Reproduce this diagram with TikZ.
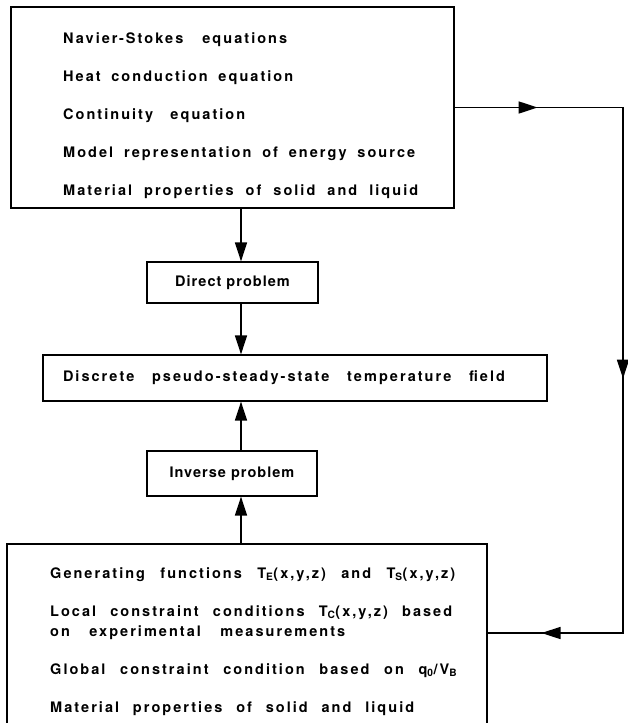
\documentclass[tikz,border=0pt]{standalone}
\usepackage{fontspec}
\setmainfont{TeX Gyre Heros}[LetterSpace=14]
\usetikzlibrary{arrows.meta, positioning, decorations.markings}

% one line of text spread to a given width
\newcommand{\fitline}[2]{\makebox[#1][s]{#2}}

\tikzset{
    block/.style={draw, line width=1.2pt, inner sep=0pt},
    small block/.style={block, font=\fontsize{14.5}{38}\selectfont\bfseries\addfontfeature{LetterSpace=7}},
    lines/.style={align=left, inner sep=0pt, anchor=west},
    flow/.style={line width=1.6pt, -{Triangle[length=19pt, width=12pt]}},
    feedback/.style={line width=1.6pt, postaction={decorate},
        decoration={markings,
            mark=at position 0.10 with {\arrow{Triangle[length=19pt, width=12pt]}},
            mark=at position 0.53 with {\arrow{Triangle[length=19pt, width=12pt]}},
            mark=at position 0.935 with {\arrow{Triangle[length=19pt, width=12pt]}}}}
}

\begin{document}
\begin{tikzpicture}[x=1pt, y=1pt,
    every node/.style={font=\fontsize{14.5}{38}\selectfont\bfseries}]
    \useasboundingbox (0,0) rectangle (628,-723);

    % Axis of the vertical arrows
    \coordinate (spine) at (241,0);

    % Governing equations
    \node[block, minimum width=443pt, minimum height=201pt] (model) at (232.5,-107.5) {};
    \node[lines] (modeltxt) at (63,-116) {\fitline{224pt}{Navier-Stokes equations}\\
        \fitline{230pt}{Heat conduction equation}\\
        \fitline{182pt}{Continuity equation}\\
        \fitline{352pt}{Model representation of energy source}\\
        \fitline{355pt}{Material properties of solid and liquid}};

    % Direct problem
    \node[small block, minimum width=171pt, minimum height=41pt] (direct) at (232.5,-282.5) {Direct problem};

    % Temperature field
    \node[block, minimum height=46pt, inner xsep=20pt] (field) at (295,-378) {\makebox[464pt][l]{\fitline{442pt}{Discrete pseudo-steady-state temperature field}}};

    % Inverse problem
    \node[small block, minimum width=170pt, minimum height=45pt] (inverse) at (232,-473.5) {Inverse problem};

    % Generating functions and constraints (box runs off the page)
    \node[block, minimum width=480pt, minimum height=196pt] (ident) at (247,-642) {};
    \node[lines] (identtxt) at (50,-641.5) {\fitline{405pt}{Generating functions T\textsubscript{E}(x,y,z) and T\textsubscript{S}(x,y,z)}\\
        \fitline{402pt}{Local constraint conditions T\textsubscript{C}(x,y,z) based}\\[-18pt]
        \fitline{295pt}{on experimental measurements}\\
        \fitline{407pt}{Global constraint condition based on q\textsubscript{0}/V\textsubscript{B}}\\
        \fitline{364pt}{Material properties of solid and liquid}};

    % Arrows
    \draw[flow] (model.south -| spine) -- (direct.north -| spine);
    \draw[flow] (direct.south -| spine) -- (field.north -| spine);
    \draw[flow] (inverse.north -| spine) -- (field.south -| spine);
    \draw[flow] (ident.north -| spine) -- (inverse.south -| spine);

    % Feedback loop on the right
    \coordinate (loopSE) at (623,-633);
    \draw[feedback] (model.east) -| (loopSE) -- (ident.east |- loopSE);
\end{tikzpicture}
\end{document}
